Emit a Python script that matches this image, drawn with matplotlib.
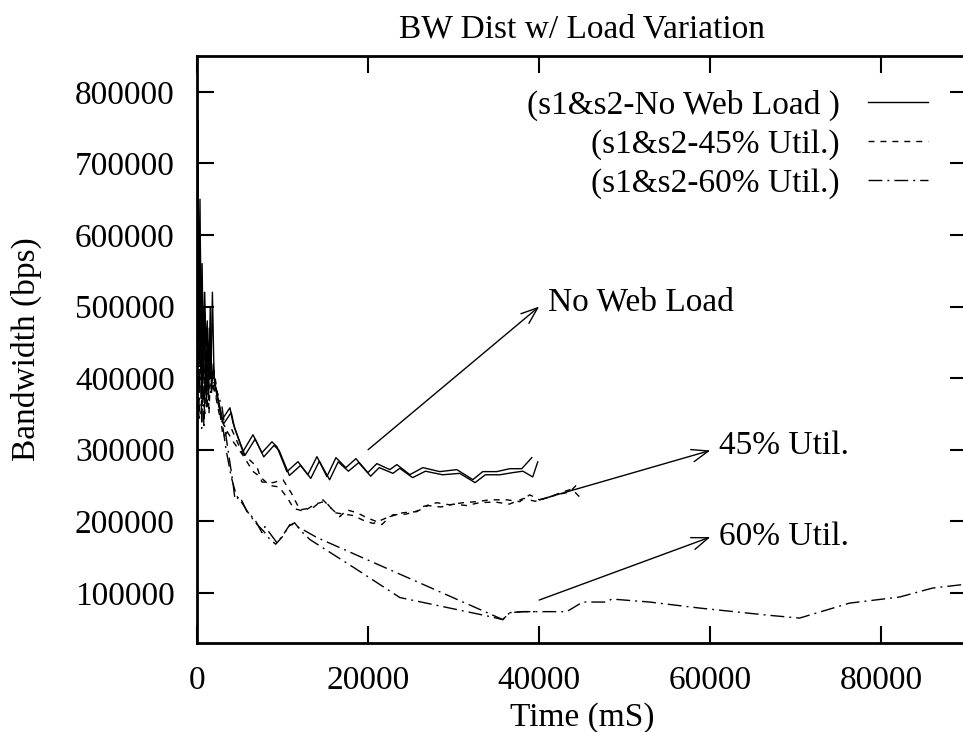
import matplotlib
matplotlib.use("Agg")
import matplotlib.pyplot as plt

plt.rcParams['font.family'] = ['Liberation Serif', 'DejaVu Serif']
plt.rcParams['mathtext.default'] = 'regular'

title = "BW Dist w/ Load Variation"
xlabel = "Time (mS)"
ylabel = "Bandwidth (bps)"
legend_labels = ["(s1&s2-No Web Load )", "(s1&s2-45% Util.)", "(s1&s2-60% Util.)"]
xticks = [0, 20000, 40000, 60000, 80000]
yticks = [100000, 200000, 300000, 400000, 500000, 600000, 700000, 800000]

# No Web Load (s1, s2)
nw1_x = [0, 120, 250, 380, 500, 650, 800, 950, 1100, 1250, 1400, 1550, 1700, 1900, 2100,
         2920, 3850, 4200, 5370, 6540, 7590, 8760, 9340, 10510, 11800, 12960, 14020, 15180,
         16240, 17400, 18570, 19970, 21020, 22540, 23360, 24880, 26400, 28380, 30370, 32240,
         33400, 35040, 36560, 37960, 39130]
nw1_y = [560000, 700000, 450000, 600000, 380000, 520000, 420000, 490000, 360000, 470000,
         400000, 500000, 380000, 420000, 390000,
         341900, 358600, 337700, 297200, 320900, 295800, 311100, 304200, 269300, 283300,
         265200, 290300, 262400, 288900, 274900, 287500, 268000, 280600, 272200, 279200,
         265200, 275000, 269400, 272200, 258200, 269400, 269400, 273500, 273500, 288900]
nw2_x = [0, 100, 200, 350, 500, 600, 750, 900, 1050, 1200, 1350, 1500, 1650, 1800, 2000,
         2300, 3100, 4000, 4400, 5600, 6800, 7800, 9000, 9600, 10800, 12100, 13300, 14300,
         15500, 16500, 17700, 18900, 20300, 21300, 22900, 23700, 25200, 26700, 28700, 30700,
         32500, 33700, 35400, 36900, 38100, 39240, 39830]
nw2_y = [600000, 760000, 500000, 650000, 420000, 560000, 400000, 520000, 440000, 480000,
         370000, 450000, 410000, 520000, 400000, 380000, 336000, 352000, 330000, 292000,
         315000, 290000, 306000, 299000, 264000, 278000, 260000, 284000, 258000, 283000,
         270000, 282000, 263000, 275000, 267000, 274000, 261000, 270000, 265000, 267000,
         254000, 265000, 265000, 268000, 270000, 262000, 283000]

# 45% Util. (s1, s2)
u45a_x = [0, 100, 250, 400, 550, 700, 900, 1100, 1300, 1500, 1700, 2000, 2500, 3040, 4000,
          5260, 7010, 7590, 8880, 10050, 11000, 12030, 13550, 14720, 15530, 16700, 17520,
          18690, 19860, 21020, 21610, 22540, 24060, 25700, 26400, 28030, 29550, 31070,
          32700, 34220, 36210, 37730, 38890, 40060, 42050, 43570, 44380]
u45a_y = [500000, 720000, 420000, 560000, 380000, 480000, 350000, 450000, 390000, 470000,
          400000, 410000, 370000, 318000, 330000, 296000, 276000, 255000, 254000, 258000,
          240000, 216000, 219000, 230000, 220000, 206500, 216000, 212000, 205000, 199500,
          195400, 206500, 212000, 213500, 220500, 226000, 223000, 226000, 227500, 230000,
          230000, 227500, 237000, 230000, 237000, 241000, 251000]
u45b_x = [0, 150, 300, 450, 600, 800, 1000, 1200, 1400, 1600, 1800, 2100, 2600, 3300, 4300,
          5500, 6500, 7400, 8500, 9600, 10600, 11300, 12500, 13800, 15000, 16100, 17200,
          18300, 19500, 20600, 21800, 22900, 24400, 25900, 27000, 28500, 30000, 31500,
          33000, 34800, 36500, 38200, 39500, 41000, 42500, 43800, 44730]
u45b_y = [450000, 640000, 400000, 520000, 360000, 500000, 380000, 430000, 350000, 420000,
          390000, 380000, 350000, 330000, 310000, 290000, 270000, 262000, 250000, 248000,
          232000, 218000, 214000, 224000, 228000, 212000, 210000, 208000, 201000, 197000,
          203000, 209000, 210000, 215000, 222000, 220000, 224000, 222000, 226000, 227000,
          224000, 232000, 228000, 233000, 240000, 245000, 234000]

# 60% Util. (s1, s2)
u60a_x = [0, 120, 260, 400, 550, 700, 850, 1000, 1200, 1400, 1600, 1870, 2920, 3500, 4200,
          4440, 5020, 5840, 6770, 7590, 7940, 9340, 9930, 10860, 11210, 12380, 14020, 35740,
          36560, 38080, 40060]
u60a_y = [420000, 700000, 380000, 520000, 330000, 470000, 360000, 440000, 380000, 430000,
          400000, 397700, 360000, 309700, 253900, 230200, 234300, 213500, 202300, 184200,
          192600, 170200, 178600, 195400, 195400, 188400, 177300, 62700, 72400, 73800, 73800]
u60b_x = [0, 100, 220, 350, 500, 650, 800, 950, 1150, 1350, 1600, 1900, 2800, 3400, 4000,
          4600, 5300, 6200, 7000, 7800, 8500, 9200, 10100, 10700, 11400, 12200, 13200, 18690,
          23710, 34220, 35740, 36560, 38080, 40060, 43220, 45080, 47890, 48470, 52910, 58750,
          66580, 70430, 76270, 82110, 85960, 89500, 92000]
u60b_y = [380000, 660000, 340000, 480000, 350000, 440000, 330000, 410000, 360000, 420000,
          380000, 390000, 350000, 300000, 262000, 236000, 225000, 208000, 196000, 186000,
          175000, 168000, 180000, 193000, 198000, 186000, 174500, 132600, 93500, 67000,
          62700, 72400, 73800, 73800, 73800, 87200, 87200, 91400, 87200, 78800, 69000,
          64800, 85700, 94200, 106700, 111600, 113000]

# annotations: (label, arrow start, arrow end, text position)
annotations = [
    ("No Web Load", (20000, 300000), (40000, 500000), (41000, 506000)),
    ("45% Util.", (40000, 230000), (60000, 299000), (61000, 306000)),
    ("60% Util.", (40000, 90000), (60000, 178000), (61000, 178000)),
]

fig = plt.figure(figsize=(9.63, 7.32), dpi=100)
ax = fig.add_axes([197/963, 1-643/732, (967-197)/963, (643-56)/732])

lw = 1.0
dash = (0, (4.3, 4.3))
dashdot = (0, (10, 3.6, 1.4, 3.6))
l1, = ax.plot(nw1_x, nw1_y, color='black', lw=lw, ls='-', label=legend_labels[0])
ax.plot(nw2_x, nw2_y, color='black', lw=lw, ls='-')
l2, = ax.plot(u45a_x, u45a_y, color='black', lw=lw, ls=dash, label=legend_labels[1])
ax.plot(u45b_x, u45b_y, color='black', lw=lw, ls=dash)
l3, = ax.plot(u60a_x, u60a_y, color='black', lw=lw, ls=dashdot, label=legend_labels[2])
ax.plot(u60b_x, u60b_y, color='black', lw=lw, ls=dashdot)

for label, start, end, tpos in annotations:
    ax.annotate('', xy=end, xytext=start,
                arrowprops=dict(arrowstyle='->, head_length=1.2, head_width=0.45',
                                color='black', lw=1.0, shrinkA=0, shrinkB=0,
                                mutation_scale=10))
    ax.text(tpos[0], tpos[1], label, fontsize=24, ha='left', va='center')

ax.set_xlim(0, 90000)
ax.set_ylim(30000, 850000)
ax.set_xticks(xticks)
ax.set_xticklabels([str(v) for v in xticks])
ax.set_yticks(yticks)
ax.set_yticklabels([str(v) for v in yticks])
ax.tick_params(axis='both', direction='in', length=12, width=1.5, labelsize=24,
               top=True, right=True)
ax.tick_params(axis='x', pad=16)
ax.tick_params(axis='y', pad=16)
for s in ax.spines.values():
    s.set_linewidth(2.0)

ax.set_title(title, fontsize=24, pad=13)
ax.set_xlabel(xlabel, fontsize=24, labelpad=5)
ax.set_ylabel(ylabel, fontsize=24, labelpad=23.5)

leg = ax.legend(handles=[l1, l2, l3], loc='upper right', frameon=False, fontsize=24,
                markerfirst=False, handlelength=1.8, handletextpad=0.84,
                labelspacing=0.24, borderpad=0, borderaxespad=0,
                bbox_to_anchor=(928/963, 1-90/732), bbox_transform=fig.transFigure)
for t in leg.get_texts():
    t.set_ha('right')

fig.savefig("out.png", dpi=100)
